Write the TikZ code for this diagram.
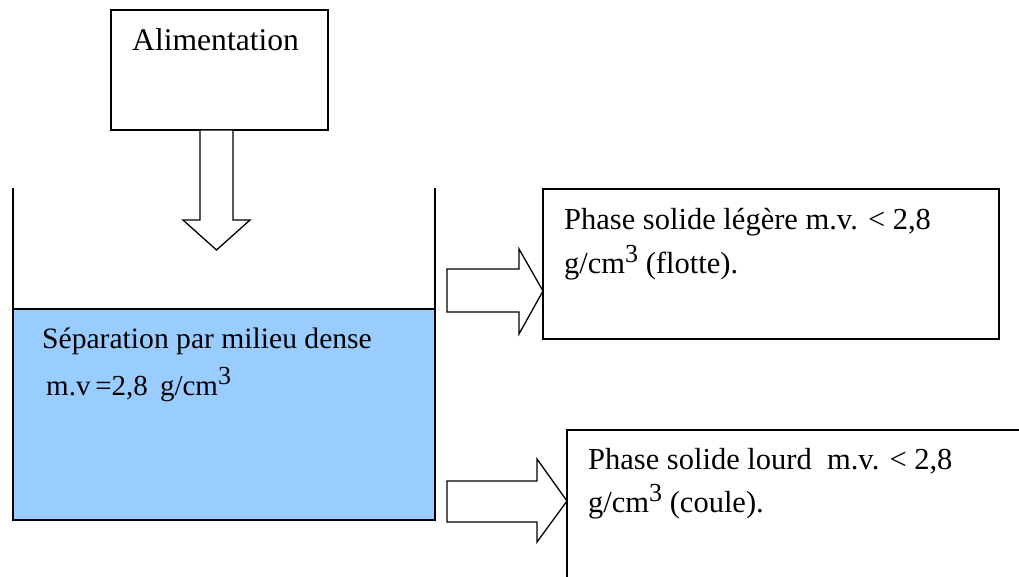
\documentclass[tikz,border=0pt]{standalone}
\usepackage{fontspec}
\setmainfont{Liberation Serif}
\newcommand{\cubed}{\raisebox{0.36em}{\fontsize{26}{26}\selectfont 3}}
\begin{document}
\begin{tikzpicture}[x=1pt,y=-1pt,
  line/.style={draw=black,line width=1.3pt},
  boxstyle/.style={draw=black,line width=1.3pt,fill=white},
  blockarrow/.style={draw=black,line width=1.3pt,fill=white,line join=miter},
  txt/.style={anchor=base west,inner sep=0pt,font=\fontsize{30.5}{30.5}\selectfont}]
\useasboundingbox (0,0) rectangle (1019,577);
\clip (0,0) rectangle (1019,577);
% feed box
\draw[boxstyle] (111,10) rectangle (328,130);
\node[txt,font=\fontsize{31.6}{31.6}\selectfont] (alim) at (132,51) {Alimentation};
% down arrow
\draw[blockarrow] (200,130) -- (233,130) -- (233,220) -- (250,220) -- (216.5,250)
  -- (183,220) -- (200,220) -- cycle;
% tank liquid
\fill[fill={rgb,255:red,153;green,204;blue,255}] (13,309) rectangle (435,520);
\draw[line] (13,188) -- (13,520) -- (435,520) -- (435,188);
\draw[line] (13,309) -- (435,309);
\node[txt,font=\fontsize{29.6}{29.6}\selectfont] (sep) at (42,348) {Séparation par milieu dense};
\node[txt,font=\fontsize{29}{29}\selectfont] (mv) at (46,395) {m.v\,=2,8\, g/cm\cubed};
% upper arrow
\draw[blockarrow] (447,269) -- (519,269) -- (519,249) -- (543,291) -- (519,334)
  -- (519,312) -- (447,312) -- cycle;
% upper box
\draw[boxstyle] (543,189) rectangle (999,339);
\node[txt] (l1) at (564,230) {Phase solide légère m.v. < 2,8};
\node[txt] (l2) at (564,273) {g/cm\cubed{} (flotte).};
% lower arrow
\draw[blockarrow] (447,481) -- (537,481) -- (537,459) -- (567,501) -- (537,542)
  -- (537,522) -- (447,522) -- cycle;
% lower box (runs off the page)
\draw[boxstyle] (567,430) rectangle (1040,600);
\node[txt] (h1) at (588,469) {Phase solide lourd\ \ m.v. < 2,8};
\node[txt] (h2) at (588,512) {g/cm\cubed{} (coule).};
\end{tikzpicture}
\end{document}
